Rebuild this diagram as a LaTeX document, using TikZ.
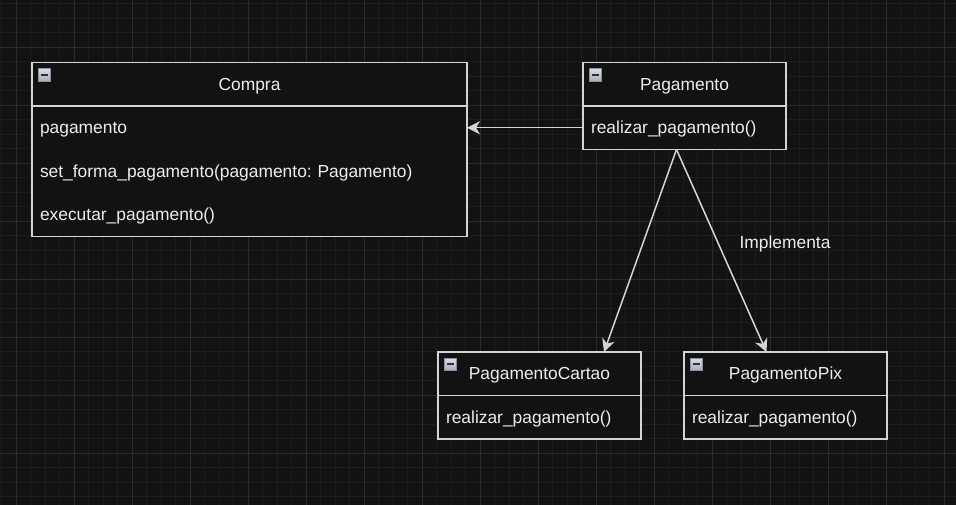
\documentclass[tikz,border=0pt]{standalone}
\usepackage{fontspec}
\setmainfont{Liberation Sans}
\usetikzlibrary{arrows.meta,calc}
\definecolor{bg}{HTML}{121212}
\definecolor{gridminor}{HTML}{1D1D1D}
\definecolor{gridmajor}{HTML}{2B2B2B}
\definecolor{linec}{HTML}{D4D4D4}
\definecolor{txt}{HTML}{EDEDED}
\definecolor{icontop}{HTML}{DADDE4}
\definecolor{iconbot}{HTML}{A8ACB5}
\definecolor{iconedge}{HTML}{8A90A0}
\frenchspacing
\begin{document}
\begin{tikzpicture}[x=1pt,y=-1pt,
  font=\fontsize{17.4}{20}\selectfont,
  minorline/.style={draw=gridminor,line width=1pt},
  majorline/.style={draw=gridmajor,line width=1pt},
  umlpart/.style={draw=linec,line width=1.5pt,fill=bg,text=txt,outer sep=0pt,
    minimum height=43.5pt,inner xsep=8pt,inner ysep=0pt,
    text height=12.5pt,text depth=0.5pt,anchor=north west},
  umlhead/.style={umlpart,align=center},
  umlrow/.style={umlpart,align=left},
  umlicon/.style={draw=iconedge,line width=0.8pt,top color=icontop,bottom color=iconbot,
    minimum size=12.5pt,inner sep=0pt,outer sep=0pt,anchor=north west,
    path picture={\draw[line width=2pt,draw=black!80]
      ([xshift=2.5pt]path picture bounding box.west) -- ([xshift=-2.5pt]path picture bounding box.east);}},
  conn/.style={draw=linec,line width=1.5pt,-{Stealth[length=13pt,width=13pt,inset=4pt]}},
  lbl/.style={text=txt,inner sep=0pt}
]
\useasboundingbox (0,0) rectangle (956,505);
\fill[bg] (0,0) rectangle (956,505);
% grid
\foreach \i in {0,...,65}{\pgfmathsetmacro\xx{1.8+14.5*\i}\draw[minorline] (\xx,0) -- (\xx,505);}
\foreach \i in {0,...,34}{\pgfmathsetmacro\yy{3.8+14.5*\i}\draw[minorline] (0,\yy) -- (956,\yy);}
\foreach \i in {0,...,16}{\pgfmathsetmacro\xx{16.3+58*\i}\draw[majorline] (\xx,0) -- (\xx,505);}
\foreach \i in {0,...,7}{\pgfmathsetmacro\yy{47.3+58*\i}\draw[majorline] (0,\yy) -- (956,\yy);}

% Compra
\node[umlhead,text width=419pt] (compraH) at (32,62.5) {Compra};
\node[umlrow,text width=419pt] (compraR1) at (compraH.south west) {pagamento};
\node[umlrow,text width=419pt] (compraR2) at (compraR1.south west) {set\_forma\_pagamento(pagamento: Pagamento)};
\node[umlrow,text width=419pt] (compraR3) at (compraR2.south west) {executar\_pagamento()};
\draw[draw=bg,line width=1.5pt] ([xshift=0.75pt]compraR2.north west) -- ([xshift=-0.75pt]compraR2.north east);
\draw[draw=bg,line width=1.5pt] ([xshift=0.75pt]compraR3.north west) -- ([xshift=-0.75pt]compraR3.north east);
\node[umlicon] (compraI) at ($(compraH.north west)+(6,6)$) {};

% Pagamento
\node[umlhead,text width=187pt] (pagH) at (583,62.5) {Pagamento};
\node[umlrow,text width=187pt] (pagR1) at (pagH.south west) {realizar\_pagamento()};
\node[umlicon] (pagI) at ($(pagH.north west)+(6,6)$) {};

% PagamentoCartao
\node[umlhead,text width=187pt] (cartaoH) at (438,352) {PagamentoCartao};
\node[umlrow,text width=187pt] (cartaoR1) at (cartaoH.south west) {realizar\_pagamento()};
\node[umlicon] (cartaoI) at ($(cartaoH.north west)+(6,6)$) {};

% PagamentoPix
\node[umlhead,text width=187pt] (pixH) at (684,352) {PagamentoPix};
\node[umlrow,text width=187pt] (pixR1) at (pixH.south west) {realizar\_pagamento()};
\node[umlicon] (pixI) at ($(pixH.north west)+(6,6)$) {};

% connectors
\coordinate (pagOut) at ($(pagR1.south)+(-8,0)$);
\coordinate (cartaoIn) at ($(cartaoH.north)+(64.5,0)$);
\coordinate (pixIn) at ($(pixH.north)+(-19,0)$);
\draw[conn] (pagR1.west) -- (compraR1.east);
\draw[conn] (pagOut) -- (cartaoIn);
\draw[conn] (pagOut) -- (pixIn);
\node[lbl] (impl) at (785,244) {Implementa};
\end{tikzpicture}
\end{document}
